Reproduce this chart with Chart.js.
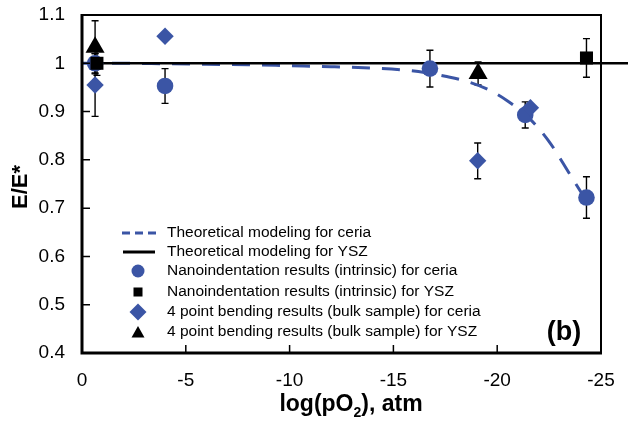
<!DOCTYPE html>
<html>
<head>
<meta charset="utf-8">
<script src="https://cdn.jsdelivr.net/npm/chart.js@4.4.0/dist/chart.umd.min.js"></script>
<style>
  html, body { margin: 0; padding: 0; background: #fff; }
  #wrap { width: 628px; height: 422px; }
</style>
</head>
<body>
<div id="wrap"><canvas id="chart" width="628" height="422"></canvas></div>
<script>
const xTicks = [0, -5, -10, -15, -20, -25];
const yTicks = [0.4, 0.5, 0.6, 0.7, 0.8, 0.9, 1, 1.1];

// theoretical curves
const ceriaModelX = [0, -2, -4, -6, -8, -10, -12, -14, -15.5, -16.5, -17.5, -18.5, -19.5, -20.5, -21.5, -22.5, -23.5, -24.3];
const ceriaModelY = [1.0, 1.0, 0.999, 0.998, 0.997, 0.995, 0.993, 0.99, 0.986, 0.981, 0.973, 0.963, 0.947, 0.922, 0.888, 0.838, 0.77, 0.715];
const yszModelX = [-0.3, -26.5];
const yszModelY = [1, 1];

// measurements
const ceriaNanoX = [-0.63, -4.0, -16.76, -21.35, -24.3];
const ceriaNanoY = [1.0, 0.953, 0.989, 0.893, 0.722];
const ceriaNanoErr = [0.02, 0.036, 0.038, 0.027, 0.043];

const yszNanoX = [-0.72, -24.3];
const yszNanoY = [1.0, 1.011];
const yszNanoErr = [0.025, 0.04];

const ceria4ptX = [-0.63, -4.0, -19.06, -21.6];
const ceria4ptY = [0.955, 1.056, 0.798, 0.908];
const ceria4ptErr = [0.065, 0, 0.037, 0];

const ysz4ptX = [-0.63, -19.08];
const ysz4ptY = [1.033, 0.979];
const ysz4ptErr = [0.055, 0.024];

const legendLabels = [
  "Theoretical modeling for ceria",
  "Theoretical modeling for YSZ",
  "Nanoindentation results (intrinsic) for ceria",
  "Nanoindentation results (intrinsic) for YSZ",
  "4 point bending results (bulk sample) for ceria",
  "4 point bending results (bulk sample) for YSZ"
];

const BLUE = "#3b55a5";
const FONT = "'Liberation Sans', Arial, Helvetica, sans-serif";

const pts = (xs, ys) => xs.map((x, i) => ({ x: x, y: ys[i] }));

const errorBars = {
  id: "errorBars",
  beforeDatasetsDraw(chart) {
    const { ctx, scales } = chart;
    ctx.save();
    ctx.strokeStyle = "#000";
    ctx.lineWidth = 1.4;
    chart.data.datasets.forEach((ds) => {
      if (!ds.errors) return;
      ds.data.forEach((p, i) => {
        const e = ds.errors[i];
        if (!e) return;
        const x = scales.x.getPixelForValue(p.x);
        const y1 = scales.y.getPixelForValue(p.y + e);
        const y2 = scales.y.getPixelForValue(p.y - e);
        ctx.beginPath();
        ctx.moveTo(x, y1); ctx.lineTo(x, y2);
        ctx.moveTo(x - 3.5, y1); ctx.lineTo(x + 3.5, y1);
        ctx.moveTo(x - 3.5, y2); ctx.lineTo(x + 3.5, y2);
        ctx.stroke();
      });
    });
    ctx.restore();
  }
};

const decorations = {
  id: "decorations",
  afterDraw(chart) {
    const { ctx, chartArea: a, scales } = chart;
    ctx.save();

    // frame
    ctx.strokeStyle = "#000";
    ctx.lineWidth = 2;
    ctx.beginPath();
    ctx.moveTo(a.left, a.top); ctx.lineTo(a.right, a.top); ctx.lineTo(a.right, a.bottom);
    ctx.stroke();
    ctx.lineWidth = 3;
    ctx.beginPath();
    ctx.moveTo(a.left, a.top - 1); ctx.lineTo(a.left, a.bottom); ctx.lineTo(a.right + 1, a.bottom);
    ctx.stroke();

    // inward ticks
    ctx.lineWidth = 1.5;
    ctx.beginPath();
    yTicks.forEach((v) => {
      const y = scales.y.getPixelForValue(v);
      ctx.moveTo(a.left, y); ctx.lineTo(a.left + 8, y);
    });
    xTicks.forEach((v) => {
      const x = scales.x.getPixelForValue(v);
      ctx.moveTo(x, a.bottom); ctx.lineTo(x, a.bottom - 8);
    });
    ctx.stroke();

    // legend
    const rows = [233, 252, 271, 292, 312, 332];
    const sx = 138;
    ctx.font = "15.5px " + FONT;
    ctx.fillStyle = "#000";
    ctx.textBaseline = "middle";
    ctx.textAlign = "left";
    legendLabels.forEach((t, i) => ctx.fillText(t, 167, rows[i]));

    ctx.strokeStyle = BLUE;
    ctx.lineWidth = 3;
    ctx.setLineDash([8, 5]);
    ctx.beginPath(); ctx.moveTo(122, rows[0]); ctx.lineTo(156, rows[0]); ctx.stroke();
    ctx.setLineDash([]);
    ctx.strokeStyle = "#000";
    ctx.beginPath(); ctx.moveTo(123, rows[1]); ctx.lineTo(155, rows[1]); ctx.stroke();

    ctx.fillStyle = BLUE;
    ctx.beginPath(); ctx.arc(sx, rows[2], 6.5, 0, Math.PI * 2); ctx.fill();
    ctx.fillStyle = "#000";
    ctx.fillRect(sx - 4.5, rows[3] - 4.5, 9, 9);
    ctx.fillStyle = BLUE;
    ctx.beginPath();
    ctx.moveTo(sx, rows[4] - 8.5); ctx.lineTo(sx + 8.5, rows[4]);
    ctx.lineTo(sx, rows[4] + 8.5); ctx.lineTo(sx - 8.5, rows[4]);
    ctx.closePath(); ctx.fill();
    ctx.fillStyle = "#000";
    ctx.beginPath();
    ctx.moveTo(sx, rows[5] - 6); ctx.lineTo(sx + 6.5, rows[5] + 5.5); ctx.lineTo(sx - 6.5, rows[5] + 5.5);
    ctx.closePath(); ctx.fill();

    // panel label
    ctx.font = "bold 27px " + FONT;
    ctx.textAlign = "center";
    ctx.fillText("(b)", 564, 333);

    // y title
    ctx.save();
    ctx.translate(21, 187);
    ctx.rotate(-Math.PI / 2);
    ctx.font = "bold 22px " + FONT;
    ctx.fillText("E/E*", 0, 0);
    ctx.restore();

    // x title with subscript
    ctx.textAlign = "left";
    const big = "bold 23px " + FONT, small = "bold 14px " + FONT;
    const p1 = "log(pO", p2 = "2", p3 = "), atm";
    ctx.font = big; const w1 = ctx.measureText(p1).width, w3 = ctx.measureText(p3).width;
    ctx.font = small; const w2 = ctx.measureText(p2).width;
    let x0 = 351 - (w1 + w2 + w3) / 2;
    const ty = 405;
    ctx.font = big; ctx.fillText(p1, x0, ty);
    ctx.font = small; ctx.fillText(p2, x0 + w1, ty + 8);
    ctx.font = big; ctx.fillText(p3, x0 + w1 + w2, ty);

    ctx.restore();
  }
};

new Chart(document.getElementById("chart").getContext("2d"), {
  type: "scatter",
  data: {
    datasets: [
      {
        label: legendLabels[5],
        data: pts(ysz4ptX, ysz4ptY),
        errors: ysz4ptErr,
        pointStyle: "triangle",
        pointRadius: 11,
        backgroundColor: "#000",
        borderWidth: 0,
        order: 0,
      },
      {
        label: legendLabels[3],
        data: pts(yszNanoX, yszNanoY),
        errors: yszNanoErr,
        pointStyle: "rect",
        pointRadius: 9.2,
        backgroundColor: "#000",
        borderWidth: 0,
        order: 1,
      },
      {
        label: legendLabels[4],
        data: pts(ceria4ptX, ceria4ptY),
        errors: ceria4ptErr,
        pointStyle: "rectRot",
        pointRadius: 8.7,
        backgroundColor: BLUE,
        borderWidth: 0,
        order: 2,
      },
      {
        label: legendLabels[2],
        data: pts(ceriaNanoX, ceriaNanoY),
        errors: ceriaNanoErr,
        pointStyle: "circle",
        pointRadius: 8.3,
        backgroundColor: BLUE,
        borderWidth: 0,
        order: 3,
      },
      {
        label: legendLabels[1],
        data: pts(yszModelX, yszModelY),
        showLine: true,
        borderColor: "#000",
        borderWidth: 2.5,
        pointRadius: 0,
        clip: false,
        order: 4,
      },
      {
        label: legendLabels[0],
        data: pts(ceriaModelX, ceriaModelY),
        showLine: true,
        borderColor: BLUE,
        borderWidth: 3,
        borderDash: [18, 12],
        pointRadius: 0,
        cubicInterpolationMode: "monotone",
        order: 5,
      },
    ],
  },
  options: {
    responsive: false,
    animation: false,
    layout: { padding: { top: 15, right: 27, left: 0, bottom: 0 } },
    plugins: {
      legend: { display: false },
      tooltip: { enabled: false },
    },
    scales: {
      x: {
        type: "linear",
        min: -25,
        max: 0,
        reverse: true,
        grid: { display: false },
        border: { display: false },
        afterBuildTicks: (s) => { s.ticks = xTicks.map((v) => ({ value: v })); },
        afterFit: (s) => { s.height = 69; s.paddingLeft = 0; s.paddingRight = 0; },
        ticks: {
          padding: 8,
          color: "#000",
          font: { family: FONT, size: 19 },
        },
      },
      y: {
        min: 0.4,
        max: 1.1,
        grid: { display: false },
        border: { display: false },
        afterBuildTicks: (s) => { s.ticks = yTicks.map((v) => ({ value: v })); },
        afterFit: (s) => { s.width = 82; s.paddingTop = 0; s.paddingBottom = 0; },
        ticks: {
          padding: 9,
          color: "#000",
          callback: (v) => String(Math.round(v * 10) / 10),
          font: { family: FONT, size: 19 },
        },
      },
    },
  },
  plugins: [errorBars, decorations],
});
</script>
</body>
</html>
